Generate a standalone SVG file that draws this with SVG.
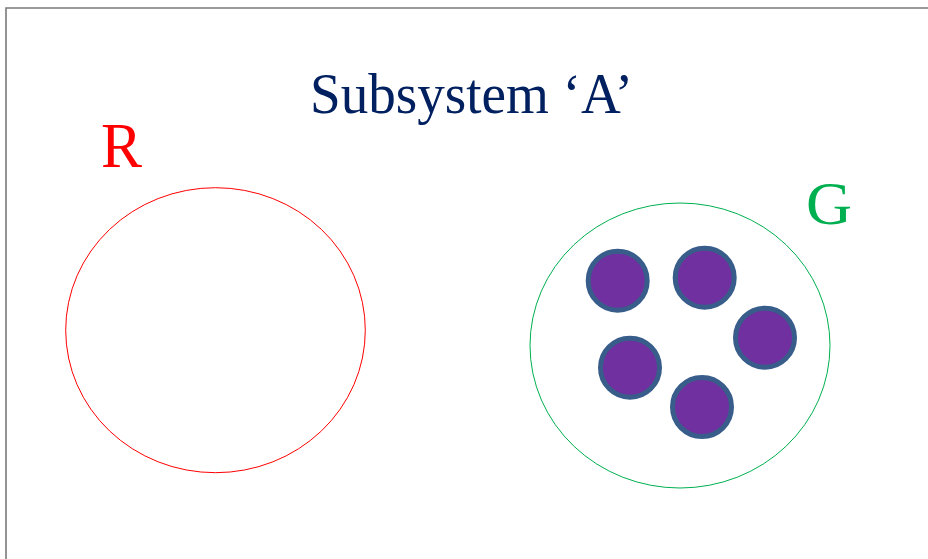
<svg xmlns="http://www.w3.org/2000/svg" width="928" height="559" viewBox="0 0 928 559">
<style>
.lbl{font-family:"Liberation Serif","DejaVu Serif",serif}
.dot{fill:#7030A0;stroke:#385D8A;stroke-width:5}
</style>
<rect x="0" y="0" width="928" height="559" fill="#fff"/>
<path d="M6,559 V8 H928" fill="none" stroke="#7A7A7A" stroke-width="1.6"/>
<text class="lbl" x="310" y="113" font-size="56" fill="#002060" textLength="323" lengthAdjust="spacingAndGlyphs">Subsystem ‘A’</text>
<g id="R">
<text class="lbl" x="101" y="167" font-size="63" fill="#FF0000" textLength="41" lengthAdjust="spacingAndGlyphs">R</text>
<ellipse cx="215.5" cy="330.2" rx="149.8" ry="142.5" fill="none" stroke="#FF0000" stroke-width="1"/>
</g>
<g id="G">
<text class="lbl" x="806" y="224" font-size="62" fill="#00B050" textLength="46" lengthAdjust="spacingAndGlyphs">G</text>
<ellipse cx="680" cy="345.5" rx="150" ry="142.5" fill="none" stroke="#00B050" stroke-width="1"/>
<circle class="dot" cx="617.7" cy="280.7" r="29.5"/>
<circle class="dot" cx="704.7" cy="277.7" r="29.5"/>
<circle class="dot" cx="765" cy="337.7" r="29.5"/>
<circle class="dot" cx="630" cy="367.7" r="29.5"/>
<circle class="dot" cx="702" cy="407" r="29.5"/>
</g>
</svg>
